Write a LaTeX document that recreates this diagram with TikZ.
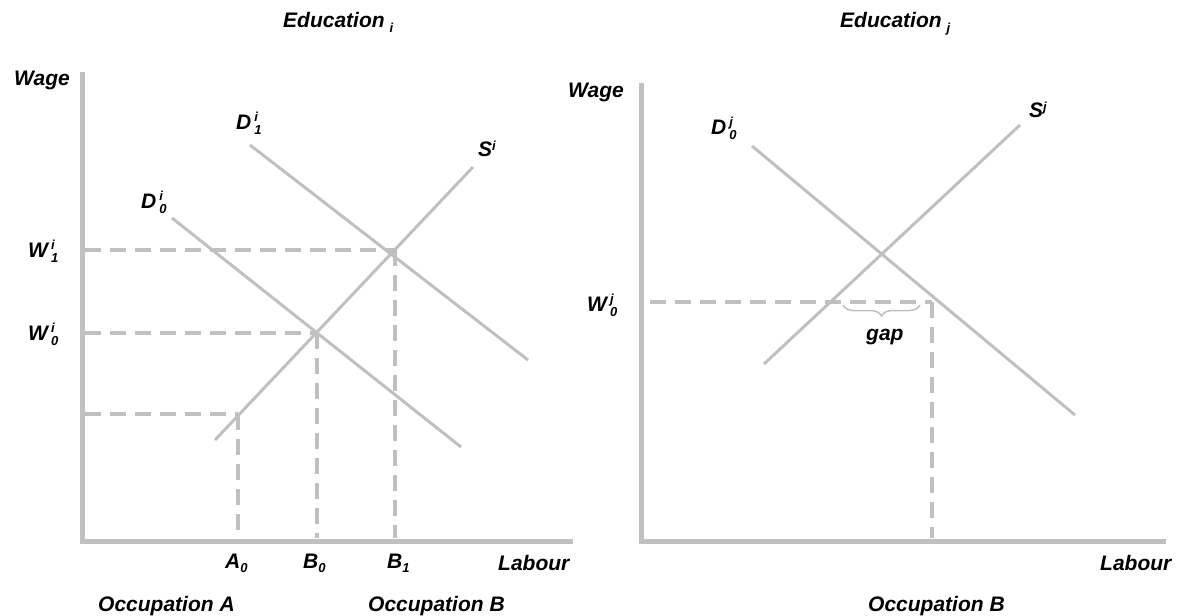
\documentclass[tikz,border=0pt]{standalone}
\usepackage{fontspec}
\setmainfont{Liberation Sans}
\usetikzlibrary{decorations.pathreplacing}
\definecolor{lg}{RGB}{192,192,192}
\newcommand{\smallidx}[1]{{\fontsize{13}{13}\selectfont #1}}
\newcommand{\supsubx}[3]{#1\hspace{3pt}\makebox[0pt][l]{\raisebox{8pt}{\smallidx{#2}}}\raisebox{-5pt}{\smallidx{#3}}}
\newcommand{\subx}[2]{#1\raisebox{-4pt}{\smallidx{#2}}}
\newcommand{\supx}[2]{#1\raisebox{6pt}{\smallidx{#2}}}
\begin{document}
\begin{tikzpicture}[x=1pt,y=-1pt,
  lbl/.style={font=\fontsize{21}{25}\selectfont\bfseries\itshape, inner sep=0pt, anchor=base west, text=black},
  axisline/.style={draw=lg, line width=5pt},
  curve/.style={draw=lg, line width=3pt},
  guide/.style={draw=lg, line width=4pt, dash pattern=on 16pt off 9pt},
  bracestyle/.style={draw=lg, line width=1.5pt, decorate, decoration={brace, amplitude=11pt}},
]
\useasboundingbox (0,0) rectangle (1179,616);

% ---------- left panel ----------
\coordinate (LT) at (82,72);
\coordinate (LO) at (82,541);
\coordinate (LR) at (573,541);
\draw[axisline] (LT) -- (LO) -- (LR);

\coordinate (d1a) at (250,145);
\coordinate (d1b) at (528,360);
\coordinate (d0a) at (172,218);
\coordinate (d0b) at (461,447);
\coordinate (sa) at (215,440);
\coordinate (sb) at (473,167);
\draw[curve] (d1a) -- (d1b);
\draw[curve] (d0a) -- (d0b);
\draw[curve] (sa) -- (sb);

\coordinate (w1s) at (85,250);
\coordinate (e1) at (395,250);
\coordinate (b1) at (395,538);
\coordinate (w0s) at (85,333);
\coordinate (e0) at (317,333);
\coordinate (b0) at (317,538);
\coordinate (was) at (85,414);
\coordinate (ea) at (238,414);
\coordinate (a0) at (238,538);
\draw[guide] (w1s) -- (e1);
\draw[guide] (e1) -- (b1);
\draw[guide] (w0s) -- (e0);
\draw[guide] (e0) -- (b0);
\draw[guide] (was) -- (ea);
\draw[guide] (ea) -- (a0);

\node[lbl] (edi) at (283,27) {Education\hspace{5pt}\raisebox{-5pt}{\smallidx{i}}};
\node[lbl] (wageL) at (14,85) {Wage};
\node[lbl] (W1) at (28,257) {\supsubx{W}{i}{1}};
\node[lbl] (W0) at (28,340) {\supsubx{W}{i}{0}};
\node[lbl] (D1) at (236,129) {\supsubx{D}{i}{1}};
\node[lbl] (D0) at (141,208) {\supsubx{D}{i}{0}};
\node[lbl] (Si) at (478,156) {\supx{S}{i}};
\node[lbl] (A0) at (225,568) {\subx{A}{0}};
\node[lbl] (B0) at (303,568) {\subx{B}{0}};
\node[lbl] (B1) at (387,568) {\subx{B}{1}};
\node[lbl] (labL) at (498,570) {Labour};
\node[lbl] (occA) at (98,611) {Occupation A};
\node[lbl] (occB) at (368,611) {Occupation B};

% ---------- right panel ----------
\coordinate (RT) at (641,83);
\coordinate (RO) at (641,541);
\coordinate (RR) at (1166,541);
\draw[axisline] (RT) -- (RO) -- (RR);

\coordinate (dja) at (752,146);
\coordinate (djb) at (1075,415);
\coordinate (sja) at (764,364);
\coordinate (sjb) at (1020,125);
\draw[curve] (dja) -- (djb);
\draw[curve] (sja) -- (sjb);

\coordinate (wjs) at (650,302);
\coordinate (ej) at (932,302);
\coordinate (bj) at (932,538);
\draw[guide] (wjs) -- (ej);
\draw[guide] (ej) -- (bj);

\coordinate (gapR) at (920,305);
\coordinate (gapL) at (843,305);
\draw[bracestyle] (gapR) -- (gapL);
\node[lbl] (gap) at (866,340) {gap};

\node[lbl] (edj) at (840,27) {Education\hspace{5pt}\raisebox{-5pt}{\smallidx{j}}};
\node[lbl] (wageR) at (568,97) {Wage};
\node[lbl] (Wj) at (587,311) {\supsubx{W}{j}{0}};
\node[lbl] (Dj) at (711,134) {\supsubx{D}{j}{0}};
\node[lbl] (Sj) at (1029,117) {\supx{S}{j}};
\node[lbl] (labR) at (1100,570) {Labour};
\node[lbl] (occBR) at (868,611) {Occupation B};
\end{tikzpicture}
\end{document}
